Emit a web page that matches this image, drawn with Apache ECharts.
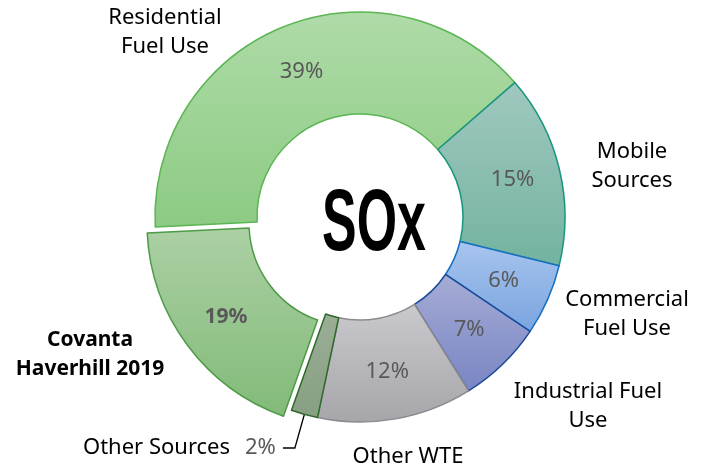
<!DOCTYPE html>
<html>
<head>
<meta charset="utf-8">
<script src="https://cdn.jsdelivr.net/npm/echarts@6/dist/echarts.min.js"></script>
<style>
html,body{margin:0;padding:0;background:#fff;}
#chart{width:707px;height:472px;}
</style>
</head>
<body>
<div id="chart"></div>
<script>
// ---- data ----
const CATEGORIES = ['Residential Fuel Use', 'Mobile Sources', 'Commercial Fuel Use', 'Industrial Fuel Use', 'Other WTE', 'Other Sources', 'Covanta Haverhill 2019'];
const LABELS = ['Residential\nFuel Use', 'Mobile\nSources', 'Commercial\nFuel Use', 'Industrial Fuel\nUse', 'Other WTE', 'Other Sources', 'Covanta\nHaverhill 2019'];
const VALUES = [39.4, 15.2, 5.6, 6.7, 12.2, 2.1, 18.8];
const CENTER_TEXT = 'SOx';

// ---- styles / layout ----
const CX = 360, CY = 217;
const R_IN = 103, R_OUT = 205, R_MID = 154;
const FILLS = [
  ['#afdba8', '#8ccb83'],
  ['#a0c8bf', '#73b3a0'],
  ['#a8c5ee', '#79a4df'],
  ['#a6acd6', '#7985c3'],
  ['#cacace', '#a6a6aa'],
  ['#9aae95', '#889f83'],
  ['#abd0a4', '#82ba79']
];
const BORDERS = ['#5ab552', '#17957f', '#1670c2', '#1b4b98', '#8b8b8f', '#2f6a2c', '#4c9b45'];
const LABEL_OFFSETS = [[-195, -185], [272, -51], [267, 97], [228, 189], [48, 240], null, [-270, 138]];
const EXPLODED = 6;
const LEADER = 5;
const FONT = '"Noto Sans", sans-serif';

const chart = echarts.init(document.getElementById('chart'), null, {renderer: 'canvas'});

const mainData = VALUES.map((v, i) => {
  const style = {
    color: new echarts.graphic.LinearGradient(0, 0, 0, 1, [
      {offset: 0, color: FILLS[i][0]}, {offset: 1, color: FILLS[i][1]}
    ]),
    borderColor: BORDERS[i],
    borderWidth: 1.5
  };
  return {
    name: CATEGORIES[i],
    value: v,
    selected: i === EXPLODED,
    itemStyle: style,
    select: {itemStyle: style},
    label: {
      show: i !== LEADER,
      fontWeight: i === EXPLODED ? 'bold' : 'normal',
      fontSize: i === EXPLODED ? 21 : 22
    }
  };
});

const nameData = VALUES.map((v, i) => ({
  name: CATEGORIES[i],
  value: v,
  label: i === LEADER ? {
    formatter: '{n|' + LABELS[i] + '}{p|' + Math.round(v) + '%}',
    rich: {
      n: {color: '#000', fontSize: 22, fontFamily: FONT},
      p: {color: '#595959', fontSize: 22, fontFamily: FONT, padding: [0, 0, 0, 15]}
    }
  } : {
    formatter: LABELS[i],
    fontWeight: i === EXPLODED ? 'bold' : 'normal',
    fontSize: i === EXPLODED ? 21 : 22
  },
  labelLine: {show: i === LEADER}
}));

chart.setOption({
  animation: false,
  backgroundColor: '#fff',
  graphic: [{
    type: 'text',
    x: CX + 14,
    y: CY + 9,
    scaleX: 0.59,
    silent: true,
    z: 100,
    style: {
      text: CENTER_TEXT,
      fontSize: 88,
      fontWeight: 'bold',
      fontFamily: '"Liberation Sans Narrow", sans-serif',
      fill: '#000',
      align: 'center',
      verticalAlign: 'middle'
    }
  }],
  series: [{
    type: 'pie',
    center: [CX, CY],
    radius: [R_IN, R_OUT],
    startAngle: 182.8,
    clockwise: true,
    selectedMode: 'single',
    selectedOffset: 10,
    avoidLabelOverlap: false,
    silent: true,
    emphasis: {disabled: true},
    label: {
      position: 'inside',
      color: '#595959',
      fontFamily: FONT,
      formatter: p => Math.round(p.value) + '%'
    },
    labelLine: {show: false},
    data: mainData
  }, {
    type: 'pie',
    center: [CX, CY],
    radius: [R_IN, R_MID],
    startAngle: 182.8,
    clockwise: true,
    avoidLabelOverlap: false,
    silent: true,
    emphasis: {disabled: true},
    itemStyle: {color: 'rgba(0,0,0,0)', borderWidth: 0},
    label: {
      position: 'outside',
      color: '#000',
      fontFamily: FONT,
      lineHeight: 29,
      align: 'center',
      distanceToLabelLine: 7
    },
    labelLine: {
      length: 86,
      length2: 12,
      smooth: false,
      lineStyle: {color: '#000', width: 1.3}
    },
    labelLayout: function (p) {
      const off = LABEL_OFFSETS[p.dataIndex];
      if (!off) return {};
      return {x: CX + off[0], y: CY + off[1], align: 'center', verticalAlign: 'middle'};
    },
    data: nameData
  }]
});
</script>
</body>
</html>
